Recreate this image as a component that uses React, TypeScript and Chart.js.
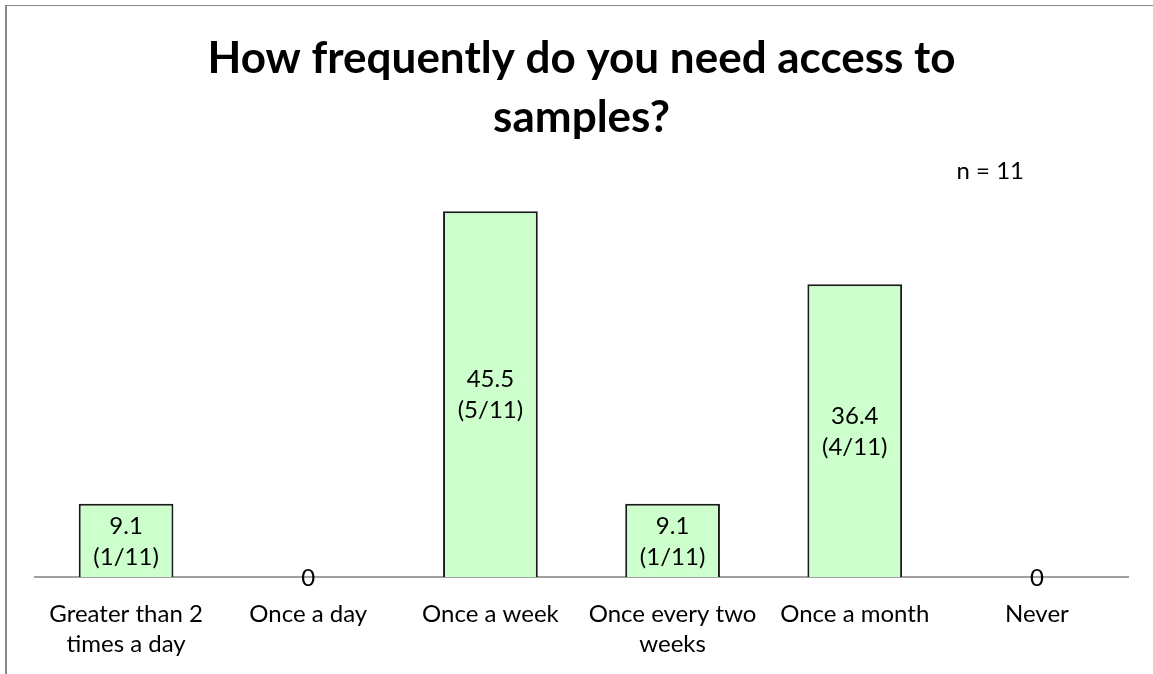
import React, { useEffect, useRef } from "react";
import { Chart, registerables } from "chart.js";

Chart.register(...registerables);

// Survey answers, percent of respondents and raw counts
const categories: (string | string[])[] = [
  ["Greater than 2", "times a day"],
  "Once a day",
  "Once a week",
  ["Once every two", "weeks"],
  "Once a month",
  "Never",
];
const percentages = [9.1, 0, 45.5, 9.1, 36.4, 0];
const respondents = [1, 0, 5, 1, 4, 0];
const totalRespondents = 11;

const titleLines = ["How frequently do you need access to", "samples?"];
const sampleSizeLabel = `n = ${totalRespondents}`;

const FONT = "Lato, 'Open Sans', sans-serif";

const frameAndLabels = {
  id: "frameAndLabels",
  beforeDraw(chart: any) {
    const { ctx, width, height } = chart;
    ctx.save();
    ctx.fillStyle = "#ffffff";
    ctx.fillRect(0, 0, width, height);
    ctx.fillStyle = "#888888";
    ctx.fillRect(5, 5, width - 5, 1);
    ctx.fillRect(5, 5, 2, height - 5);
    ctx.restore();
  },
  afterDraw(chart: any) {
    const { ctx, chartArea } = chart;
    const cx = (chartArea.left + chartArea.right) / 2;
    ctx.save();
    ctx.fillStyle = "#000000";
    ctx.textBaseline = "alphabetic";
    ctx.textAlign = "center";
    ctx.font = `bold 44px ${FONT}`;
    ctx.fillText(titleLines[0], cx, 73);
    ctx.fillText(titleLines[1], cx, 132);

    ctx.font = `24px ${FONT}`;
    ctx.textAlign = "right";
    ctx.fillText(sampleSizeLabel, 1024, 179);

    // value labels, centred inside each bar
    const meta = chart.getDatasetMeta(0);
    const yScale = chart.scales.y;
    ctx.textAlign = "center";
    ctx.textBaseline = "middle";
    const lineGap = 31;
    meta.data.forEach((bar: any, i: number) => {
      const v = percentages[i];
      const lines =
        respondents[i] > 0
          ? [String(v), `(${respondents[i]}/${totalRespondents})`]
          : [String(v)];
      const mid = (yScale.getPixelForValue(v) + yScale.getPixelForValue(0)) / 2;
      lines.forEach((t, j) => {
        ctx.fillText(t, bar.x, mid + 1 + (j - (lines.length - 1) / 2) * lineGap);
      });
    });
    ctx.restore();
  },
};

export default function App() {
  const canvasRef = useRef<HTMLCanvasElement | null>(null);

  useEffect(() => {
    if (!canvasRef.current) return;
    const chart = new Chart(canvasRef.current, {
      type: "bar",
      data: {
        labels: categories,
        datasets: [
          {
            data: percentages,
            backgroundColor: "#ccffcc",
            borderColor: "#1a1a1a",
            borderWidth: 2,
            barPercentage: 0.52,
            categoryPercentage: 1,
          },
        ],
      },
      options: {
        responsive: false,
        animation: false,
        layout: { padding: { top: 175, left: 35, right: 25, bottom: 0 } },
        plugins: {
          legend: { display: false },
          title: { display: false },
          tooltip: { enabled: false },
        },
        scales: {
          x: {
            grid: { display: false, drawTicks: false },
            border: { display: true, color: "#a0a0a0", width: 2 },
            ticks: {
              color: "#000000",
              font: { family: FONT, size: 24, lineHeight: 1.25 },
              padding: 22,
              maxRotation: 0,
              autoSkip: false,
            },
            afterFit: (scale: any) => {
              scale.height = 97;
            },
          },
          y: {
            display: false,
            min: 0,
            max: 50,
          },
        },
      },
      plugins: [frameAndLabels],
    });
    return () => chart.destroy();
  }, []);

  return (
    <div style={{ position: "fixed", left: 0, top: 0, width: 1153, height: 674 }}>
      <canvas ref={canvasRef} width={1153} height={674} />
    </div>
  );
}
